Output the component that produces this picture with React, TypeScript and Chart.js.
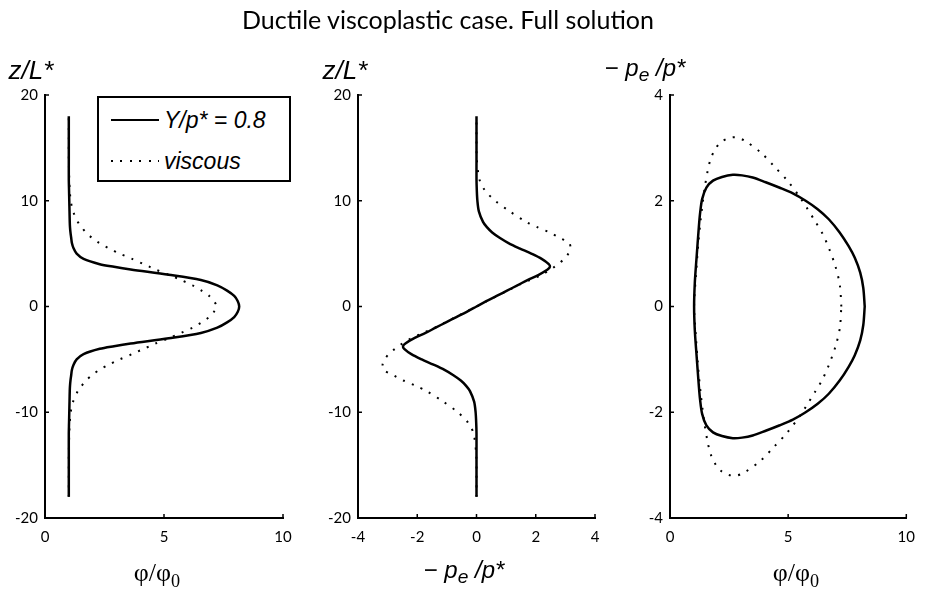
import React, { useEffect, useRef } from "react";
import { Chart, registerables } from "chart.js";

Chart.register(...registerables);

// ---------- data ----------
const zGrid = [
  -18, -16, -14, -12, -11, -10, -9, -8, -7.5, -7, -6.5, -6, -5.5, -5, -4.5, -4, -3.75, -3.5, -3, -2.5, -2, -1.5, -1, -0.5,
  0, 0.5, 1, 1.5, 2, 2.5, 3, 3.5, 3.75, 4, 4.5, 5, 5.5, 6, 6.5, 7, 7.5, 8, 9, 10, 11, 12, 14, 16, 18,
];
// porosity phi/phi0, Y/p* = 0.8
const phiSolid = [
  1.0, 1.0, 1.0, 1.0, 1.01, 1.02, 1.03, 1.04, 1.05, 1.07, 1.1, 1.13, 1.2, 1.33, 1.62, 2.3, 2.9, 3.6, 5.2, 6.55, 7.24, 7.65, 7.95, 8.1,
  8.16, 8.1, 7.95, 7.65, 7.24, 6.55, 5.2, 3.6, 2.9, 2.3, 1.62, 1.33, 1.2, 1.13, 1.1, 1.07, 1.05, 1.04, 1.03, 1.02, 1.01, 1.0, 1.0, 1.0, 1.0,
];
// porosity phi/phi0, viscous
const phiViscous = [
  1.0, 1.0, 1.0, 1.02, 1.04, 1.08, 1.18, 1.38, 1.54, 1.72, 1.97, 2.28, 2.68, 3.14, 3.66, 4.15, 4.4, 4.64, 5.2, 5.72, 6.2, 6.58, 6.9, 7.1,
  7.22, 7.1, 6.9, 6.58, 6.2, 5.72, 5.2, 4.64, 4.4, 4.15, 3.66, 3.14, 2.68, 2.28, 1.97, 1.72, 1.54, 1.38, 1.18, 1.08, 1.04, 1.02, 1.0, 1.0, 1.0,
];
// effective pressure -pe/p*, Y/p* = 0.8
const peSolid = [
  0, 0, 0, 0, -0.01, -0.03, -0.08, -0.22, -0.35, -0.53, -0.78, -1.08, -1.45, -1.85, -2.2, -2.44, -2.48, -2.4, -2.1, -1.72, -1.38, -1.03, -0.68, -0.33,
  0, 0.33, 0.68, 1.03, 1.38, 1.72, 2.1, 2.4, 2.48, 2.44, 2.2, 1.85, 1.45, 1.08, 0.78, 0.53, 0.35, 0.22, 0.08, 0.03, 0.01, 0, 0, 0, 0,
];
// effective pressure -pe/p*, viscous
const peViscous = [
  0, 0, -0.01, -0.1, -0.28, -0.63, -1.12, -1.68, -2.05, -2.47, -2.8, -3.13, -3.17, -3.1, -2.96, -2.75, -2.63, -2.5, -2.2, -1.8, -1.4, -1.05, -0.7, -0.35,
  0, 0.35, 0.7, 1.05, 1.4, 1.8, 2.2, 2.5, 2.63, 2.75, 2.96, 3.1, 3.17, 3.13, 2.8, 2.47, 2.05, 1.68, 1.12, 0.63, 0.28, 0.1, 0.01, 0, 0,
];
// phase portrait (phi/phi0, -pe/p*), Y/p* = 0.8
const loopPhiSolid = [
  8.24, 8.18, 8.05, 7.82, 7.56, 7.18, 6.72, 6.25, 5.74, 5.2, 4.62, 4.05, 3.5, 3.05, 2.66, 2.2, 1.82, 1.54, 1.36, 1.27, 1.22, 1.12, 1.05, 1.02,
  1.05, 1.12, 1.22, 1.27, 1.36, 1.54, 1.82, 2.2, 2.66, 3.05, 3.5, 4.05, 4.62, 5.2, 5.74, 6.25, 6.72, 7.18, 7.56, 7.82, 8.05, 8.18, 8.24,
];
const loopPeSolid = [
  0, 0.35, 0.64, 0.92, 1.14, 1.4, 1.65, 1.84, 2.0, 2.14, 2.25, 2.35, 2.44, 2.48, 2.49, 2.45, 2.38, 2.25, 2.03, 1.75, 1.5, 0.9, 0.45, 0,
  -0.45, -0.9, -1.5, -1.75, -2.03, -2.25, -2.38, -2.45, -2.49, -2.48, -2.44, -2.35, -2.25, -2.14, -2.0, -1.84, -1.65, -1.4, -1.14, -0.92, -0.64, -0.35, 0,
];
// phase portrait, viscous
const loopPhiViscous = [
  7.25, 7.19, 7.0, 6.72, 6.45, 6.13, 5.8, 5.46, 4.97, 4.41, 3.85, 3.18, 2.8, 2.45, 2.13, 1.89, 1.72, 1.61, 1.47, 1.38, 1.3, 1.2, 1.1, 1.02,
  1.1, 1.2, 1.3, 1.38, 1.47, 1.61, 1.72, 1.89, 2.13, 2.45, 2.8, 3.18, 3.85, 4.41, 4.97, 5.46, 5.8, 6.13, 6.45, 6.72, 7.0, 7.19, 7.25,
];
const loopPeViscous = [
  0, 0.4, 0.76, 1.11, 1.38, 1.62, 1.86, 2.09, 2.38, 2.65, 2.91, 3.13, 3.2, 3.18, 3.1, 2.96, 2.79, 2.6, 2.25, 1.95, 1.65, 1.2, 0.6, 0,
  -0.6, -1.2, -1.65, -1.95, -2.25, -2.6, -2.79, -2.96, -3.1, -3.18, -3.2, -3.13, -2.91, -2.65, -2.38, -2.09, -1.86, -1.62, -1.38, -1.11, -0.76, -0.4, 0,
];

const TITLE = "Ductile viscoplastic case. Full solution";
const LEGEND_SOLID = "Y/p* = 0.8";
const LEGEND_VISCOUS = "viscous";

// ---------- layout ----------
const W = 925;
const H = 594;
const YW = 45;
const XH = 40;
const TICK_FONT = { family: "Lato, 'Liberation Sans', sans-serif", size: 15 };

type Area = { l: number; r: number; t: number; b: number };

const innerTicks = {
  id: "innerTicks",
  afterDraw(chart: any) {
    const ctx = chart.ctx;
    const { left, bottom } = chart.chartArea;
    const xs = chart.scales.x;
    const ys = chart.scales.y;
    ctx.save();
    ctx.strokeStyle = "#000";
    ctx.lineWidth = 1.5;
    xs.ticks.forEach((t: any) => {
      const px = xs.getPixelForValue(t.value);
      ctx.beginPath();
      ctx.moveTo(px, bottom);
      ctx.lineTo(px, bottom - 4);
      ctx.stroke();
    });
    ys.ticks.forEach((t: any) => {
      const py = ys.getPixelForValue(t.value);
      ctx.beginPath();
      ctx.moveTo(left, py);
      ctx.lineTo(left + 4, py);
      ctx.stroke();
    });
    ctx.restore();
  },
};

function pts(xs: number[], ys: number[]) {
  return xs.map((x, i) => ({ x, y: ys[i] }));
}

function lineDs(data: any[], dotted: boolean) {
  return {
    data,
    showLine: true,
    borderColor: "#000",
    borderWidth: dotted ? 2 : 2.5,
    borderDash: dotted ? [2, 7.5] : [],
    pointRadius: 0,
    tension: 0.3,
    fill: false,
  };
}

function makeConfig(area: Area, xMin: number, xMax: number, xStep: number, yMin: number, yMax: number, yStep: number, datasets: any[]) {
  return {
    type: "scatter",
    data: { datasets },
    options: {
      animation: false,
      responsive: false,
      maintainAspectRatio: false,
      events: [],
      layout: {
        padding: { left: area.l - YW, right: W - area.r, top: area.t, bottom: H - area.b - XH },
      },
      plugins: { legend: { display: false }, tooltip: { enabled: false }, title: { display: false } },
      scales: {
        x: {
          type: "linear",
          min: xMin,
          max: xMax,
          ticks: { stepSize: xStep, color: "#000", font: TICK_FONT, padding: 10, maxRotation: 0, autoSkip: false },
          grid: { display: false, drawTicks: false },
          border: { display: true, color: "#000", width: 2 },
          afterFit: (s: any) => {
            s.height = XH;
          },
        },
        y: {
          type: "linear",
          min: yMin,
          max: yMax,
          ticks: { stepSize: yStep, color: "#000", font: TICK_FONT, padding: 7, autoSkip: false },
          grid: { display: false, drawTicks: false },
          border: { display: true, color: "#000", width: 2 },
          afterFit: (s: any) => {
            s.width = YW;
          },
        },
      },
    },
    plugins: [innerTicks],
  };
}

const P1: Area = { l: 45, r: 283, t: 95, b: 518 };
const P2: Area = { l: 358, r: 595, t: 95, b: 518 };
const P3: Area = { l: 670, r: 908, t: 95, b: 518 };

function ChartCanvas({ config }: { config: any }) {
  const ref = useRef<HTMLCanvasElement | null>(null);
  useEffect(() => {
    if (!ref.current) return;
    const chart = new Chart(ref.current, config);
    return () => chart.destroy();
  }, [config]);
  return <canvas ref={ref} width={W} height={H} style={{ position: "absolute", left: 0, top: 0, width: W, height: H }} />;
}

const cfg1 = makeConfig(P1, 0, 10, 5, -20, 20, 10, [
  lineDs(pts(phiSolid, zGrid), false),
  lineDs(pts(phiViscous, zGrid), true),
]);
const cfg2 = makeConfig(P2, -4, 4, 2, -20, 20, 10, [
  lineDs(pts(peSolid, zGrid), false),
  lineDs(pts(peViscous, zGrid), true),
]);
const cfg3 = makeConfig(P3, 0, 10, 5, -4, 4, 2, [
  lineDs(pts(loopPhiSolid, loopPeSolid), false),
  lineDs(pts(loopPhiViscous, loopPeViscous), true),
]);

const sansItalic: React.CSSProperties = { fontFamily: "'Liberation Sans', Arial, sans-serif", fontStyle: "italic" };

function Label({ cx, cy, children, style }: { cx: number; cy: number; children: React.ReactNode; style?: React.CSSProperties }) {
  return (
    <div
      style={{
        position: "absolute",
        left: cx - 250,
        top: cy,
        width: 500,
        textAlign: "center",
        transform: "translateY(-50%)",
        whiteSpace: "nowrap",
        lineHeight: 1,
        color: "#000",
        ...style,
      }}
    >
      {children}
    </div>
  );
}

function PeLabel() {
  return (
    <span>
      <span style={{ fontStyle: "normal" }}>−</span>&nbsp;p<sub style={{ fontSize: "0.8em", verticalAlign: "-0.3em" }}>e</sub>&nbsp;/p*
    </span>
  );
}

export default function App() {
  return (
    <div style={{ position: "absolute", left: 0, top: 0, width: W, height: H, background: "#fff", overflow: "hidden" }}>
      <ChartCanvas config={cfg1} />
      <ChartCanvas config={cfg2} />
      <ChartCanvas config={cfg3} />

      <Label cx={448} cy={19} style={{ fontFamily: "Lato, sans-serif", fontSize: 25 }}>
        {TITLE}
      </Label>

      <Label cx={31} cy={70} style={{ ...sansItalic, fontSize: 26 }}>
        z/L*
      </Label>
      <Label cx={345} cy={70} style={{ ...sansItalic, fontSize: 26 }}>
        z/L*
      </Label>
      <Label cx={645} cy={70} style={{ ...sansItalic, fontSize: 24 }}>
        <PeLabel />
      </Label>

      <Label cx={157} cy={575} style={{ fontFamily: "'Liberation Serif', serif", fontSize: 26 }}>
        φ/φ<sub style={{ fontSize: "0.7em", verticalAlign: "-0.3em" }}>0</sub>
      </Label>
      <Label cx={464} cy={572} style={{ ...sansItalic, fontSize: 24 }}>
        <PeLabel />
      </Label>
      <Label cx={796} cy={575} style={{ fontFamily: "'Liberation Serif', serif", fontSize: 26 }}>
        φ/φ<sub style={{ fontSize: "0.7em", verticalAlign: "-0.3em" }}>0</sub>
      </Label>

      {/* legend */}
      <div
        style={{
          position: "absolute",
          left: 97,
          top: 96,
          width: 194,
          height: 86,
          border: "2px solid #000",
          boxSizing: "border-box",
          background: "#fff",
        }}
      >
        <div style={{ position: "absolute", left: 12, top: 21, width: 48, height: 0, borderTop: "2.5px solid #000" }} />
        <div style={{ position: "absolute", left: 65, top: 10, ...sansItalic, fontSize: 23, lineHeight: "24px", whiteSpace: "nowrap" }}>
          {LEGEND_SOLID}
        </div>
        <div
          style={{
            position: "absolute",
            left: 12,
            top: 62,
            width: 48,
            height: 2,
            backgroundImage: "repeating-linear-gradient(to right, #000 0 2px, transparent 2px 9.5px)",
          }}
        />
        <div style={{ position: "absolute", left: 65, top: 51, ...sansItalic, fontSize: 23, lineHeight: "24px", whiteSpace: "nowrap" }}>
          {LEGEND_VISCOUS}
        </div>
      </div>
    </div>
  );
}
